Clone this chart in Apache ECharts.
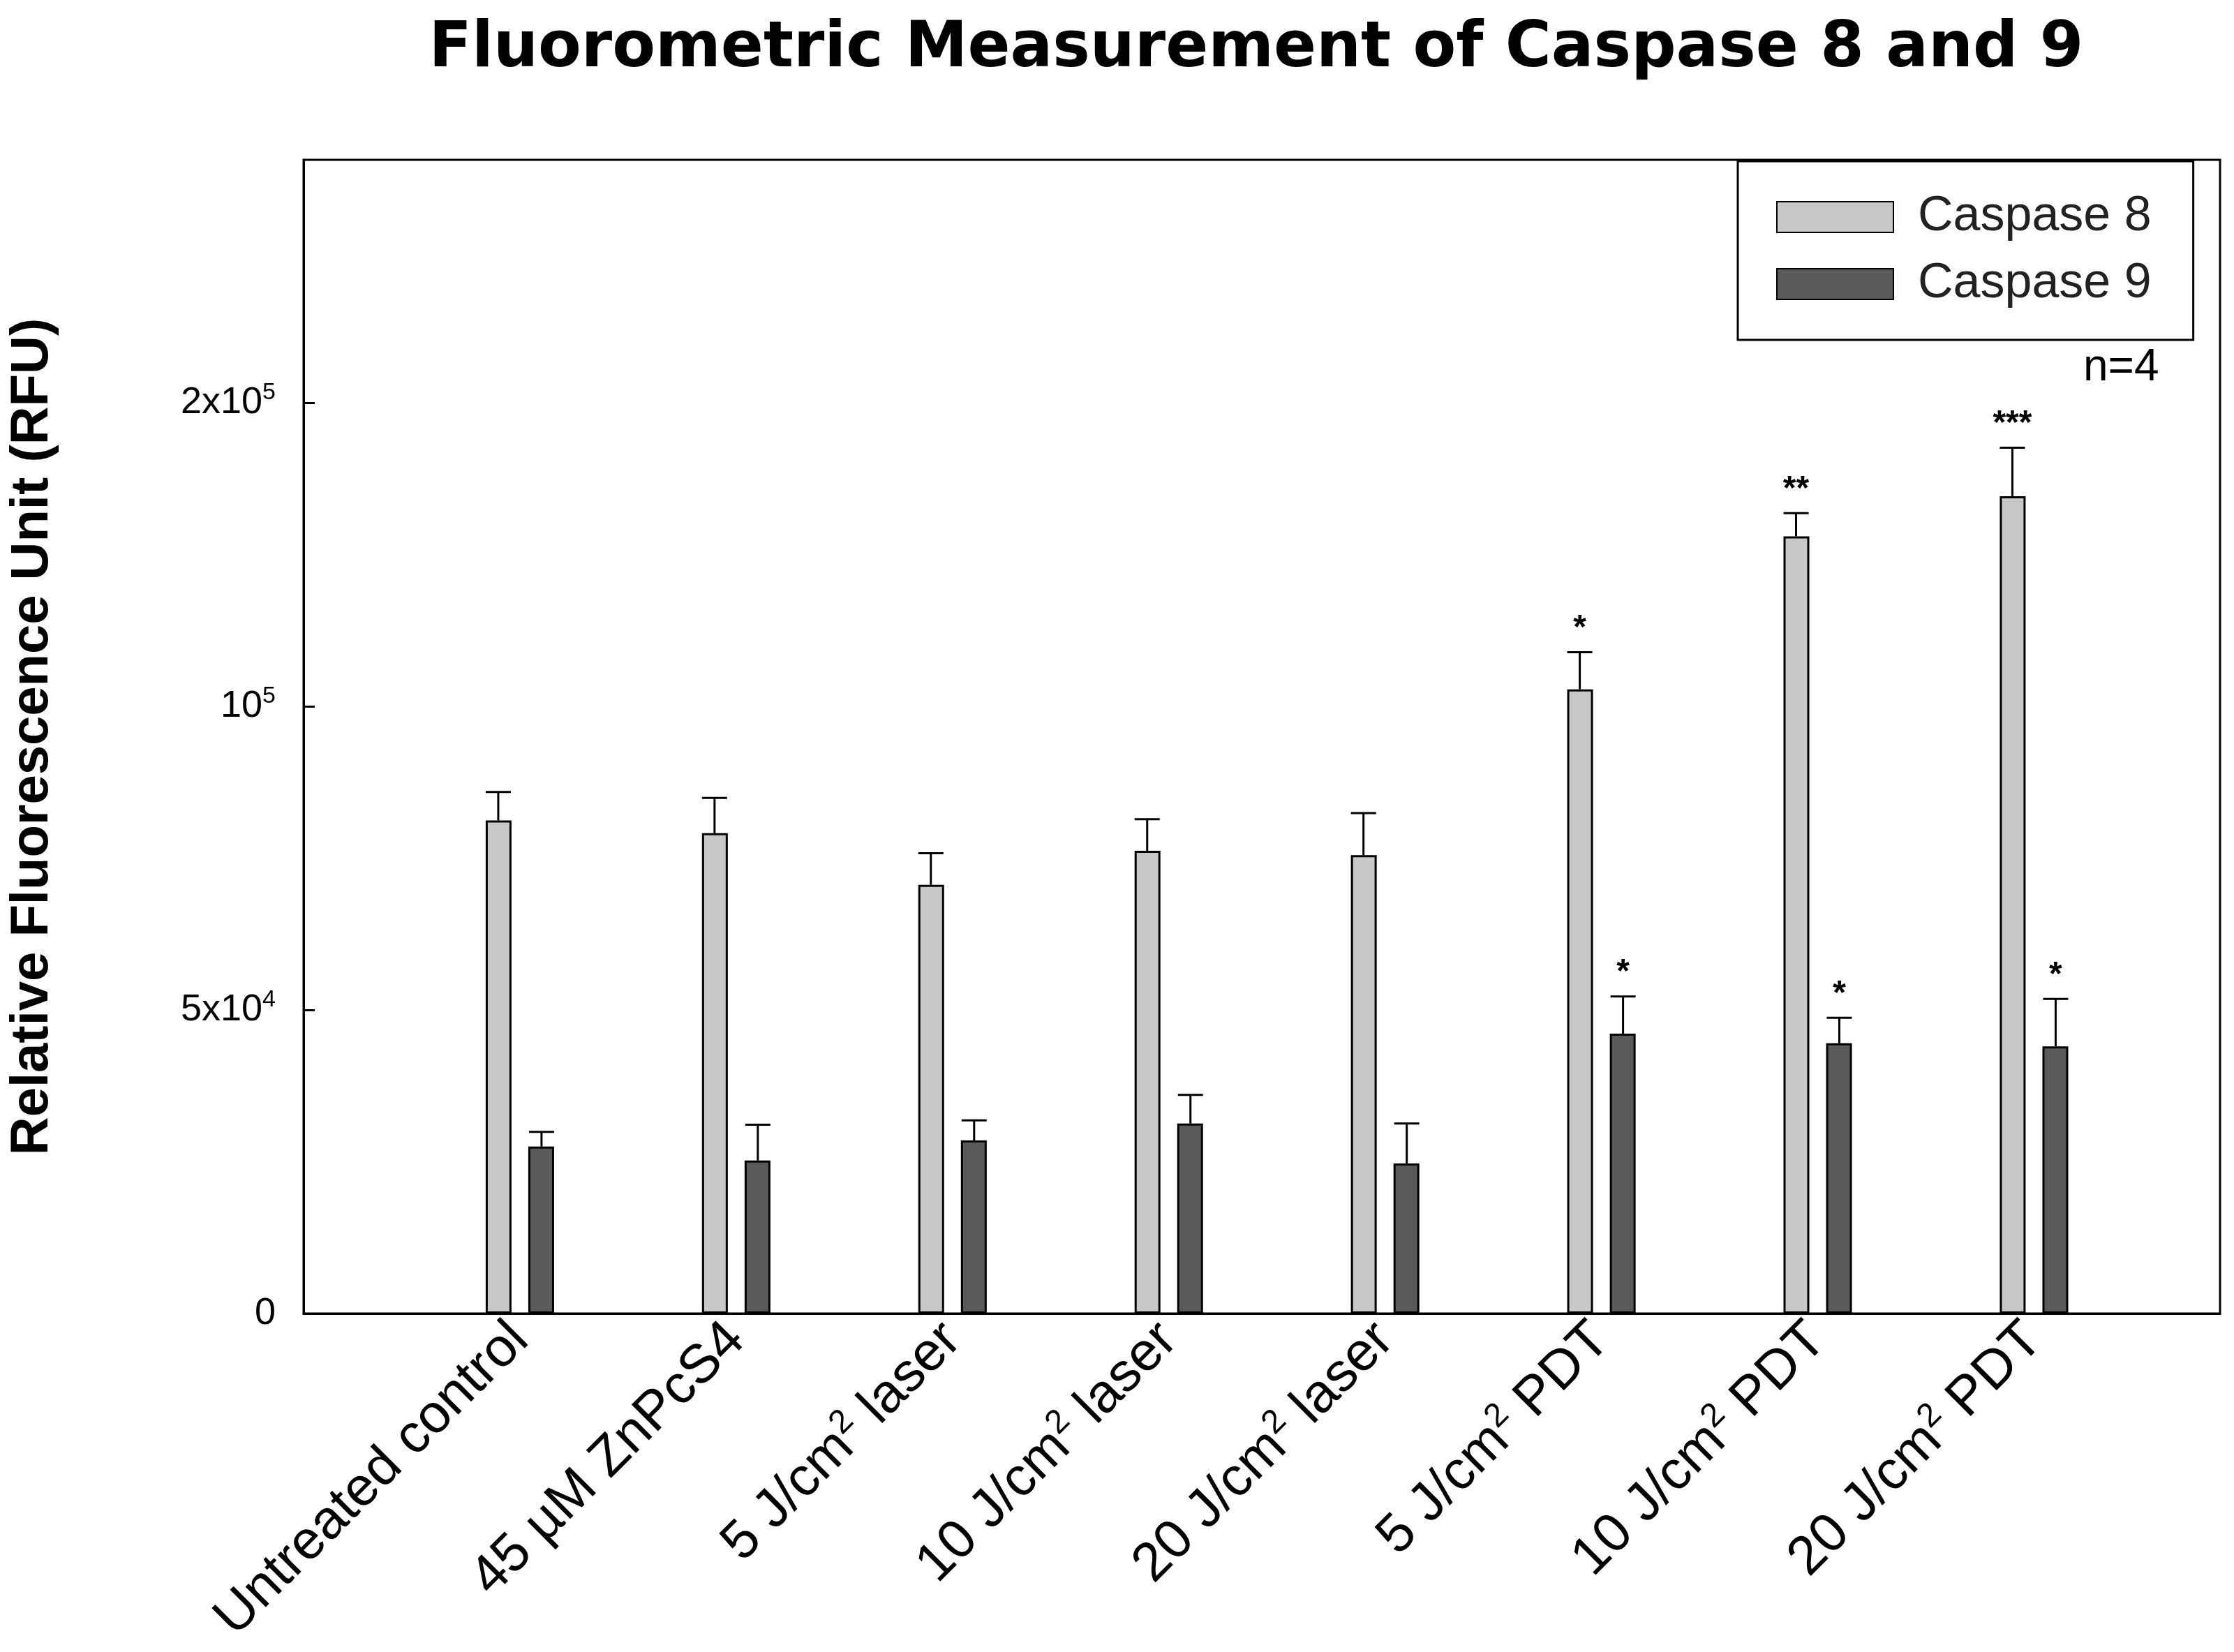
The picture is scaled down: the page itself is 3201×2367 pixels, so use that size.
<!DOCTYPE html>
<html><head><meta charset="utf-8">
<script src="https://cdn.jsdelivr.net/npm/echarts@6/dist/echarts.min.js"></script>
<style>html,body{margin:0;background:#fff}#c{width:3201px;height:2367px}</style>
</head><body><div id="c"></div>
<script>
const categories = ['Untreated control','45 µM ZnPcS4','5 J/cm2 laser','10 J/cm2 laser','20 J/cm2 laser','5 J/cm2 PDT','10 J/cm2 PDT','20 J/cm2 PDT'];
const casp8 = [81200,79100,70600,76200,75500,102800,128000,134600];
const casp8Err = [4700,5800,5200,5200,6900,6100,3800,8000];
const casp9 = [27500,25200,28500,31300,24700,46100,44500,44000];
const casp9Err = [2400,5900,3300,4700,6600,6100,4200,7800];
const stars8 = ['','','','','','*','**','***'];
const stars9 = ['','','','','','*','*','*'];
const yTickLabels = {0:'0',50000:'5x10{s|4}',100000:'10{s|5}',150000:'2x10{s|5}'};

const chart = echarts.init(document.getElementById('c'));
const OFF = 31;
function errSeries(vals, errs, stars, off){
  return {type:'custom', xAxisIndex:0, yAxisIndex:0, z:5,
    data: vals.map((v,i)=>[i,v,errs[i],stars[i]]),
    renderItem:(params,api)=>{
      const x = api.coord([api.value(0),0])[0]+off;
      const yTop = api.coord([0,api.value(1)])[1];
      const yE = api.coord([0,api.value(1)+api.value(2)])[1];
      const ch = [
        {type:'line',shape:{x1:x,y1:yTop,x2:x,y2:yE},style:{stroke:'#000',lineWidth:3}},
        {type:'line',shape:{x1:x-18,y1:yE,x2:x+18,y2:yE},style:{stroke:'#000',lineWidth:3}}
      ];
      const s = api.value(3);
      if (s) ch.push({type:'text',style:{text:s,x:x,y:yE-10,align:'center',verticalAlign:'bottom',font:'bold 48px Liberation Sans',fill:'#000'}});
      return {type:'group',children:ch};
    }};
}
chart.setOption({
  animation:false,
  title:{text:'Fluorometric Measurement of Caspase 8 and 9',left:1795,top:22,textAlign:'center',
    textStyle:{fontSize:90,fontWeight:'bold',fontFamily:'DejaVu Sans',color:'#000'}},
  grid:{left:435,top:229,right:20,bottom:485,show:true,borderColor:'#000',borderWidth:3},
  legend:{orient:'vertical',left:2490,top:231,width:680,padding:[45,60,45,55],borderColor:'#000',borderWidth:3,
    itemWidth:167,itemHeight:44,itemGap:26,icon:'rect',data:['Caspase 8','Caspase 9'],
    textStyle:{fontSize:70,fontFamily:'Liberation Sans',color:'#222',padding:[0,0,0,30]}},
  xAxis:{type:'value',min:-1,max:7.86,interval:1,
    axisLine:{show:true,onZero:false,lineStyle:{color:'#000',width:3}},axisTick:{show:false},splitLine:{show:false},
    axisLabel:{rotate:45,fontSize:78,fontFamily:'Liberation Sans',color:'#000',margin:26,showMaxLabel:false,
      formatter:v=>{const c=categories[v];if(c===undefined)return '';return c.replace('cm2','cm{s|2}');},
      rich:{s:{fontSize:48,verticalAlign:'top',padding:[0,0,40,0],fontFamily:'Liberation Sans'}}}},
  yAxis:{type:'value',min:0,max:190000,interval:50000,name:'Relative Fluorescence Unit (RFU)',nameLocation:'middle',nameGap:350,
    nameTextStyle:{fontSize:76,fontWeight:'bold',fontFamily:'Liberation Sans',color:'#000'},
    axisLine:{show:true,onZero:false,lineStyle:{color:'#000',width:3}},axisTick:{show:true,length:-16,lineStyle:{color:'#000',width:3}},splitLine:{show:false},
    axisLabel:{fontSize:54,fontFamily:'Liberation Sans',color:'#000',margin:40,showMaxLabel:false,
      formatter:v=>yTickLabels[v]||'',rich:{s:{fontSize:34,verticalAlign:'top',padding:[0,0,28,0]}}}},
  series:[
    {name:'Caspase 8',type:'bar',barWidth:37,barGap:'65%',data:casp8.map((v,i)=>[i,v]),
      itemStyle:{color:'#c8c8c8',borderColor:'#000',borderWidth:3}},
    {name:'Caspase 9',type:'bar',barWidth:37,data:casp9.map((v,i)=>[i,v]),
      itemStyle:{color:'#5a5a5a',borderColor:'#000',borderWidth:3}},
    errSeries(casp8,casp8Err,stars8,-OFF),
    errSeries(casp9,casp9Err,stars9,OFF)
  ],
  graphic:[{type:'text',left:2985,top:495,style:{text:'n=4',font:'64px Liberation Sans',fill:'#000'}}]
});
</script></body></html>
